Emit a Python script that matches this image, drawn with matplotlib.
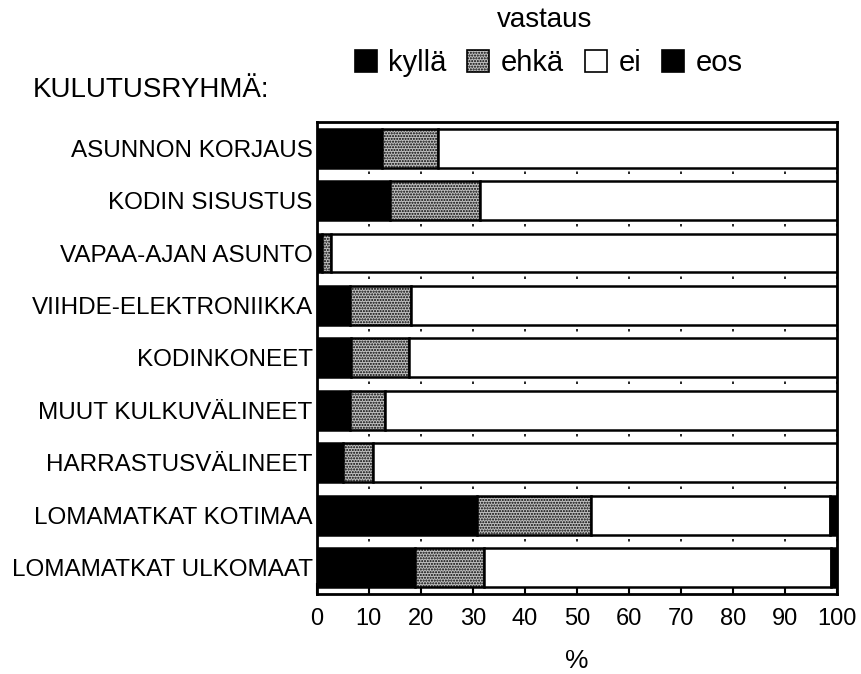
import numpy as np
import matplotlib
matplotlib.use('Agg')
import matplotlib.pyplot as plt
from matplotlib.patches import Patch

plt.rcParams['font.family'] = ['Liberation Sans', 'DejaVu Sans']
plt.rcParams['hatch.color'] = '#707070'

# categories, top to bottom
categories = ['ASUNNON KORJAUS', 'KODIN SISUSTUS', 'VAPAA-AJAN ASUNTO',
              'VIIHDE-ELEKTRONIIKKA', 'KODINKONEET', 'MUUT KULKUVÄLINEET',
              'HARRASTUSVÄLINEET', 'LOMAMATKAT KOTIMAA', 'LOMAMATKAT ULKOMAAT']

# percentages per answer
kylla = [12.5, 14.0, 1.0, 6.4, 6.6, 6.4, 5.0, 30.7, 18.8]
ehka  = [10.8, 17.3, 1.7, 11.7, 11.1, 6.8, 5.8, 22.1, 13.3]
ei    = [76.7, 68.7, 97.3, 81.9, 82.3, 86.8, 89.2, 45.9, 66.7]
eos   = [0.0, 0.0, 0.0, 0.0, 0.0, 0.0, 0.0, 1.3, 1.2]

series = [('kyllä', kylla, 'black', None),
          ('ehkä', ehka, '#c0c0c0', '......'),
          ('ei', ei, 'white', None),
          ('eos', eos, 'black', None)]

fig = plt.figure(figsize=(8.61, 6.74), dpi=100)
ax = fig.add_axes([0.368, 0.119, 0.604, 0.700])

y = np.arange(len(categories))
left = np.zeros(len(categories))
for name, vals, col, hatch in series:
    vals = np.array(vals)
    ax.barh(y, vals, left=left, height=0.74, color=col, edgecolor='black',
            linewidth=1.8, hatch=hatch, zorder=3)
    left += vals

ax.set_ylim(len(categories) - 0.5, -0.5)
ax.set_xlim(0, 100)
ax.set_yticks(y)
ax.set_yticklabels(categories, fontsize=17.5)
ax.set_xticks(range(0, 101, 10))
ax.tick_params(axis='x', direction='in', length=8, width=1.5, labelsize=17, pad=10)
ax.tick_params(axis='y', length=0, pad=3)
for s in ax.spines.values():
    s.set_linewidth(2)

# sparse dotted grid shows only in the gaps between bars
ax.grid(axis='x', color='black', linestyle=(0, (1.5, 9)), linewidth=1.2, zorder=1)

ax.set_xlabel('%', fontsize=19, labelpad=14)

fig.text(0.038, 0.867, 'KULUTUSRYHMÄ:', fontsize=20, va='center', ha='left')
fig.text(0.633, 0.971, 'vastaus', fontsize=20, va='center', ha='center')

handles = [Patch(facecolor=c, edgecolor='black', hatch=h, linewidth=1.2, label=n)
           for n, _, c, h in series]
fig.legend(handles=handles, loc='center', bbox_to_anchor=(0.637, 0.906), ncol=4,
           frameon=False, fontsize=21, handlelength=0.76, handleheight=0.76,
           handletextpad=0.4, columnspacing=0.7)

fig.savefig('out.png', dpi=100)
